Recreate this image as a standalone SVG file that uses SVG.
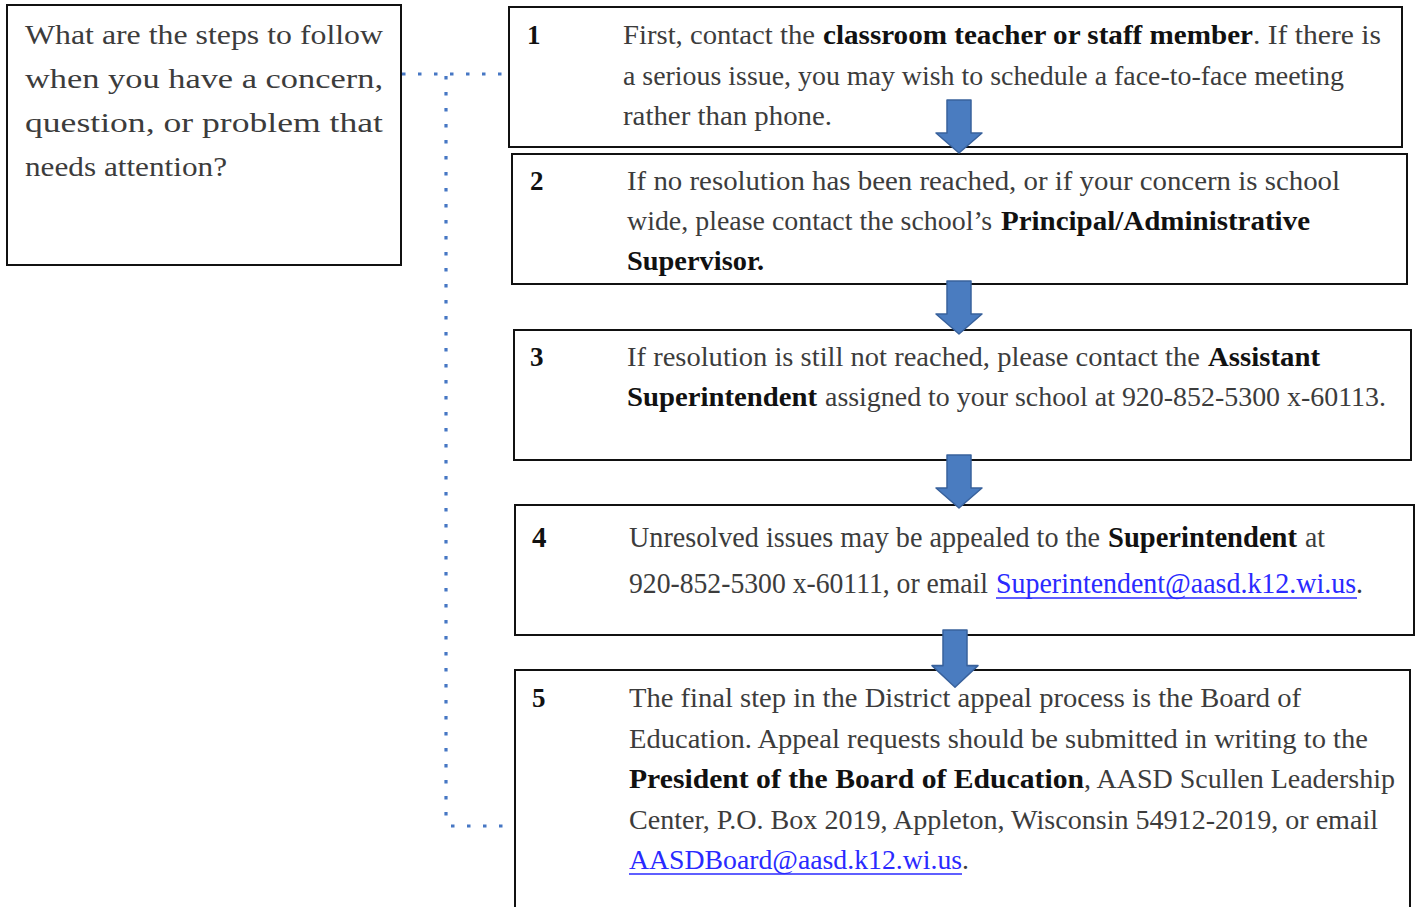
<svg xmlns="http://www.w3.org/2000/svg" width="1415" height="907" viewBox="0 0 1415 907">
  <style>
    .box { fill: #ffffff; stroke: #111111; stroke-width: 2; }
    .t { font-family: "Liberation Serif", "Times New Roman", serif; font-size: 27px; fill: #3c3c3c; }
    .b { font-family: "Liberation Serif", "Times New Roman", serif; font-size: 27px; font-weight: bold; fill: #111111; }
    .lk { font-family: "Liberation Serif", "Times New Roman", serif; font-size: 27px; fill: #2a2aff; }
    .g { fill: #3c3c3c; }
    .u { stroke: #2a2aff; stroke-width: 1.5; }
    .big { font-size: 29px; }
    .dot { fill: none; stroke: #4677c4; stroke-width: 3.2; stroke-dasharray: 3.5 12.5; }
    .arrow { fill: #4a7cc0; stroke: #38619c; stroke-width: 1.5; stroke-linejoin: round; }
  </style>
  <defs>
    <!-- block arrow pointing down, origin at top centre of shaft -->
    <path id="down" d="M -12 0 H 12 V 33 H 23 L 0 53 L -23 33 H -12 Z"/>
  </defs>

  <rect width="1415" height="907" fill="#ffffff"/>

  <!-- dotted bracket from the question to the steps -->
  <g id="connectors">
    <path class="dot" d="M 402 74 H 506"/>
    <path class="dot" d="M 446 76 V 826"/>
    <path class="dot" d="M 451 826 H 506"/>
  </g>

  <g id="question">
    <rect class="box" x="7" y="5" width="394" height="260"/>
    <text class="t" x="25" y="44" textLength="358" lengthAdjust="spacingAndGlyphs">What are the steps to follow</text>
    <text class="t" x="25" y="88" textLength="358" lengthAdjust="spacingAndGlyphs">when  you  have  a  concern,</text>
    <text class="t" x="25" y="132" textLength="358" lengthAdjust="spacingAndGlyphs">question,  or  problem  that</text>
    <text class="t" x="25" y="176" textLength="202" lengthAdjust="spacingAndGlyphs">needs attention?</text>
  </g>

  <g id="step1">
    <rect class="box" x="509" y="7" width="893" height="140"/>
    <text class="b" x="527" y="44">1</text>
    <text class="t" x="623" y="44" textLength="192" lengthAdjust="spacingAndGlyphs">First, contact the</text>
    <text class="b" x="823" y="44" textLength="430" lengthAdjust="spacingAndGlyphs">classroom teacher or staff member</text>
    <text class="t" x="1253" y="44" textLength="128" lengthAdjust="spacingAndGlyphs">. If there is</text>
    <text class="t" x="623" y="85" textLength="721" lengthAdjust="spacingAndGlyphs">a serious issue, you may wish to schedule a face-to-face meeting</text>
    <text class="t" x="623" y="125" textLength="209" lengthAdjust="spacingAndGlyphs">rather than phone.</text>
  </g>

  <g id="step2">
    <rect class="box" x="512" y="154" width="895" height="130"/>
    <text class="b" x="530" y="190">2</text>
    <text class="t" x="627" y="190" textLength="713" lengthAdjust="spacingAndGlyphs">If no resolution has been reached, or if your concern is school</text>
    <text class="t" x="627" y="230" textLength="365" lengthAdjust="spacingAndGlyphs">wide, please contact the school’s</text>
    <text class="b" x="1001" y="230" textLength="309" lengthAdjust="spacingAndGlyphs">Principal/Administrative</text>
    <text class="b" x="627" y="270" textLength="137" lengthAdjust="spacingAndGlyphs">Supervisor.</text>
  </g>

  <g id="step3">
    <rect class="box" x="514" y="330" width="897" height="130"/>
    <text class="b" x="530" y="366">3</text>
    <text class="t" x="627" y="366" textLength="573" lengthAdjust="spacingAndGlyphs">If resolution is still not reached, please contact the</text>
    <text class="b" x="1208" y="366" textLength="112" lengthAdjust="spacingAndGlyphs">Assistant</text>
    <text class="b" x="627" y="406" textLength="190" lengthAdjust="spacingAndGlyphs">Superintendent</text>
    <text class="t" x="825" y="406" textLength="561" lengthAdjust="spacingAndGlyphs">assigned to your school at 920-852-5300 x-60113.</text>
  </g>

  <g id="step4">
    <rect class="box" x="515" y="505" width="899" height="130"/>
    <text class="b big" x="532" y="547">4</text>
    <text class="t big" x="629" y="547" textLength="471" lengthAdjust="spacingAndGlyphs">Unresolved issues may be appealed to the</text>
    <text class="b big" x="1108" y="547" textLength="189" lengthAdjust="spacingAndGlyphs">Superintendent</text>
    <text class="t big" x="1305" y="547" textLength="20" lengthAdjust="spacingAndGlyphs">at</text>
    <text class="t big" x="629" y="593" textLength="359" lengthAdjust="spacingAndGlyphs">920-852-5300 x-60111, or email</text>
    <text class="lk big" x="996" y="593" textLength="367" lengthAdjust="spacingAndGlyphs">Superintendent@aasd.k12.wi.us<tspan class="g">.</tspan></text>
    <line class="u" x1="996" y1="598" x2="1357" y2="598"/>
  </g>

  <g id="step5">
    <rect class="box" x="515" y="670" width="895" height="260"/>
    <text class="b" x="532" y="707">5</text>
    <text class="t" x="629" y="707" textLength="672" lengthAdjust="spacingAndGlyphs">The final step in the District appeal process is the Board of</text>
    <text class="t" x="629" y="748" textLength="739" lengthAdjust="spacingAndGlyphs">Education. Appeal requests should be submitted in writing to the</text>
    <text class="b" x="629" y="788" textLength="455" lengthAdjust="spacingAndGlyphs">President of the Board of Education</text>
    <text class="t" x="1084" y="788" textLength="311" lengthAdjust="spacingAndGlyphs">, AASD Scullen Leadership</text>
    <text class="t" x="629" y="829" textLength="749" lengthAdjust="spacingAndGlyphs">Center, P.O. Box 2019, Appleton, Wisconsin 54912-2019, or email</text>
    <text class="lk" x="629" y="869" textLength="340" lengthAdjust="spacingAndGlyphs">AASDBoard@aasd.k12.wi.us<tspan class="g">.</tspan></text>
    <line class="u" x1="629" y1="874" x2="962" y2="874"/>
  </g>

  <!-- step-to-step arrows -->
  <g id="arrows">
    <use href="#down" class="arrow" transform="translate(959 100)"/>
    <use href="#down" class="arrow" transform="translate(959 281)"/>
    <use href="#down" class="arrow" transform="translate(959 455)"/>
    <use href="#down" class="arrow" transform="translate(955 630) scale(1 1.08)"/>
  </g>
</svg>
